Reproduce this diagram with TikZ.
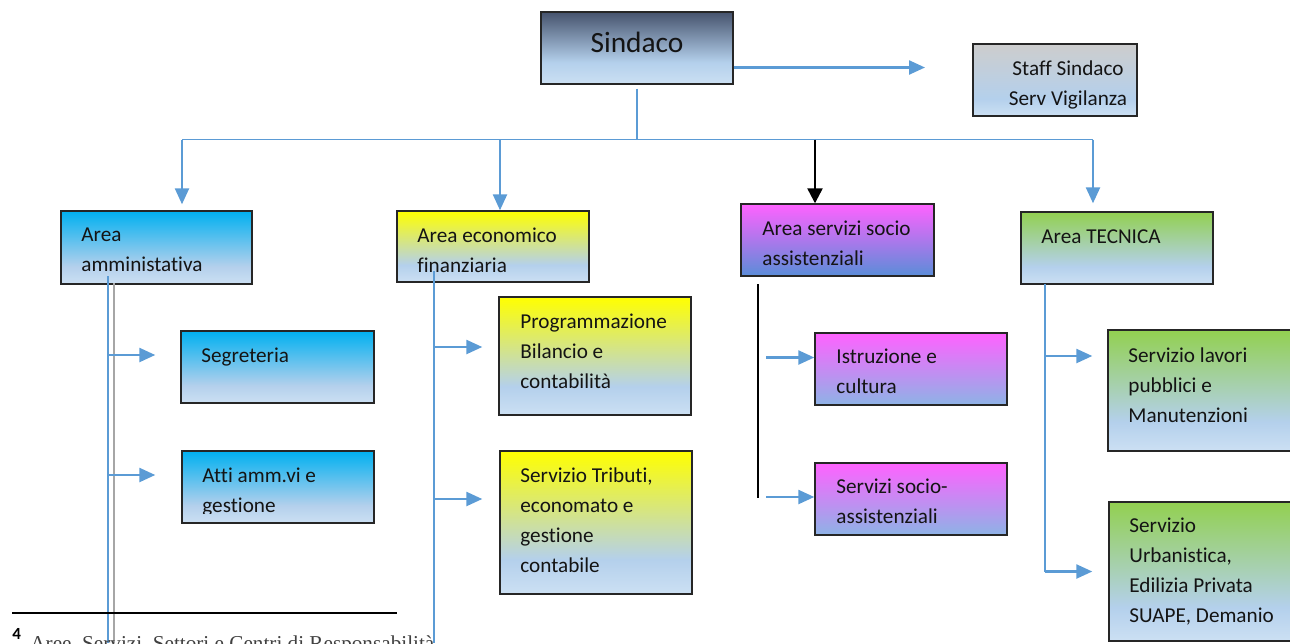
\documentclass[tikz,border=0pt]{standalone}
\usepackage{fontspec}
\setmainfont{Carlito}[Ligatures={NoCommon}]
\newfontfamily\serifnote{Liberation Serif}
\usetikzlibrary{arrows.meta,fit}

\definecolor{lnblue}{HTML}{5B9BD5}
\definecolor{lbA}{HTML}{B4D0EC}
\definecolor{lbB}{HTML}{CCE0F3}
\definecolor{cyanT}{HTML}{00B0F0}
\definecolor{yelT}{HTML}{FFFF00}
\definecolor{magT}{HTML}{FF62FF}
\definecolor{grnT}{HTML}{92D050}
\definecolor{sinT}{HTML}{46536D}
\definecolor{grayT}{HTML}{CDCDCD}
\definecolor{blueM}{HTML}{5A8DD8}
\definecolor{blueN}{HTML}{8DB3E6}
\definecolor{gline}{HTML}{A6A6A6}

\pgfdeclareverticalshading{shCyan}{100bp}{color(0bp)=(lbB); color(25bp)=(lbB); color(37bp)=(lbA); color(75bp)=(cyanT); color(100bp)=(cyanT)}
\pgfdeclareverticalshading{shYel}{100bp}{color(0bp)=(lbB); color(25bp)=(lbB); color(37bp)=(lbA); color(75bp)=(yelT); color(100bp)=(yelT)}
\pgfdeclareverticalshading{shGrn}{100bp}{color(0bp)=(lbB); color(25bp)=(lbB); color(37bp)=(lbA); color(75bp)=(grnT); color(100bp)=(grnT)}
\pgfdeclareverticalshading{shSind}{100bp}{color(0bp)=(lbB); color(25bp)=(lbB); color(40bp)=(lbA); color(75bp)=(sinT); color(100bp)=(sinT)}
\pgfdeclareverticalshading{shGray}{100bp}{color(0bp)=(lbB); color(25bp)=(lbB); color(37bp)=(lbA); color(75bp)=(grayT); color(100bp)=(grayT)}
\pgfdeclareverticalshading{shMagA}{100bp}{color(0bp)=(blueM); color(25bp)=(blueM); color(75bp)=(magT); color(100bp)=(magT)}
\pgfdeclareverticalshading{shMagB}{100bp}{color(0bp)=(blueN); color(25bp)=(blueN); color(75bp)=(magT); color(100bp)=(magT)}

\tikzset{
  box/.style={draw=black!85, line width=0.7pt, inner sep=0pt, shade, shading=#1},
  txt/.style={font=\fontsize{10.6}{15}\selectfont, align=left, inner sep=0pt, text=black!92},
  arr/.style={draw=lnblue, line width=1.2pt, -{Triangle[length=8pt,width=7pt]}},
  blk/.style={draw=black, line width=1.2pt, -{Triangle[length=7.5pt,width=7.5pt]}},
  ln/.style={draw=lnblue, line width=0.8pt},
  gln/.style={draw=gline, line width=0.9pt},
}

\begin{document}
\begin{tikzpicture}[x=0.5pt,y=-0.5pt]
\useasboundingbox (0,0) rectangle (1290,643);

% boxes
\node[box=shSind, fit={(541,12) (733,84)}] (sind) {};
\node[box=shGray, fit={(973,44) (1137,116)}] (staff) {};
\node[box=shCyan, fit={(61,211) (252,284)}] (aamm) {};
\node[box=shYel,  fit={(397,211) (589,282)}] (aeco) {};
\node[box=shMagA, fit={(741,204) (934,276)}] (asoc) {};
\node[box=shGrn,  fit={(1021,212) (1213,284)}] (atec) {};
\node[box=shCyan, fit={(181,331) (374,403)}] (seg) {};
\node[box=shCyan, fit={(182,451) (374,523)}] (atti) {};
\node[box=shYel,  fit={(499,297) (691,415)}] (prog) {};
\node[box=shYel,  fit={(500,451) (692,594)}] (trib) {};
\node[box=shMagB, fit={(815,333) (1007,405)}] (istr) {};
\node[box=shMagB, fit={(815,463) (1007,535)}] (ssoc) {};
\node[box=shGrn,  fit={(1108,330) (1300,451)}] (lav) {};
\node[box=shGrn,  fit={(1109,502) (1300,641)}] (urb) {};

% texts
\node[font=\fontsize{14.7}{18}\selectfont, inner sep=0pt, text=black!92, anchor=base] (sindT) at (637,52) {Sindaco};
\begin{scope}
  \clip (973,44) rectangle (1137,115);
  \node[txt, align=center, anchor=center] (staffT) at (1068,84) {\strut Staff Sindaco\\Serv Vigilanza\strut};
\end{scope}
\node[txt, anchor=west] (aammT) at (81,250) {\strut Area\\amministativa\strut};
\node[txt, anchor=west] (aecoT) at (417,251) {\strut Area economico\\finanziaria\strut};
\node[txt, anchor=west] (asocT) at (762,244) {\strut Area servizi socio\\assistenziali\strut};
\node[txt, anchor=west] (atecT) at (1041,237) {\strut Area TECNICA\strut};
\node[txt, anchor=west] (segT) at (201,356) {\strut Segreteria\strut};
\begin{scope}
  \clip (182,451) rectangle (374,513);
  \node[txt, anchor=west] (attiT) at (202,491) {\strut Atti amm.vi e\\gestione\strut};
\end{scope}
\node[txt, anchor=west] (progT) at (520,352) {\strut Programmazione\\Bilancio e\\contabilità\strut};
\node[txt, anchor=west] (tribT) at (520,521) {\strut Servizio Tributi,\\economato e\\gestione\\contabile\strut};
\node[txt, anchor=west] (istrT) at (836,372) {\strut Istruzione e\\cultura\strut};
\node[txt, anchor=west] (ssocT) at (836,502) {\strut Servizi socio-\\assistenziali\strut};
\node[txt, anchor=west] (lavT) at (1128,386) {\strut Servizio lavori\\pubblici e\\Manutenzioni\strut};
\node[txt, anchor=west] (urbT) at (1129,571) {\strut Servizio\\Urbanistica,\\Edilizia Privata\\SUAPE, Demanio\strut};

% top connectors
\coordinate (sR) at (925,67.5);
\draw[arr] (sind.east |- sR) -- (sR);
\coordinate (busC) at (637,139.5);
\draw[ln] ([yshift=-2pt]sind.south) -- (busC);
\coordinate (busL) at (182,139.5);
\coordinate (bus2) at (500,139.5);
\coordinate (bus3) at (815,139.5);
\coordinate (busR) at (1093,139.5);
\draw[ln] (busL) -- (busR);
\draw[arr, shorten >=3pt] (busL) -- (busL |- aamm.north);
\draw[arr] (bus2) -- (bus2 |- aeco.north);
\draw[blk] (bus3) -- (bus3 |- asoc.north);
\draw[arr, shorten >=4pt] (busR) -- (busR |- atec.north);

% left column
\coordinate (L1) at (108,276);
\coordinate (L1e) at (108,643);
\coordinate (G1) at (114,283);
\coordinate (G1e) at (114,643);
\draw[ln] (L1) -- (L1e);
\draw[gln] (G1) -- (G1e);
\coordinate (La) at (108,355);
\coordinate (Lb) at (108,475);
\draw[arr, shorten >=12.5pt] (La) -- (La -| seg.west);
\draw[arr, shorten >=13pt] (Lb) -- (Lb -| atti.west);

% economic column
\coordinate (E1) at (434,271);
\coordinate (E1e) at (434,643);
\draw[ln] (E1) -- (E1e);
\coordinate (Ea) at (434,347);
\coordinate (Eb) at (434,499);
\draw[arr, shorten >=8pt] (Ea) -- (Ea -| prog.west);
\draw[arr, shorten >=8.5pt] (Eb) -- (Eb -| trib.west);

% social column
\coordinate (S1) at (758,284);
\coordinate (S1e) at (758,498);
\draw[draw=black, line width=1pt] (S1) -- (S1e);
\coordinate (Sa) at (766,357.5);
\coordinate (Sb) at (766,497);
\draw[arr] (Sa) -- (Sa -| istr.west);
\draw[arr] (Sb) -- (Sb -| ssoc.west);

% technical column
\coordinate (T1) at (1045,284);
\coordinate (T1e) at (1045,571.5);
\draw[ln] (T1) -- (T1e);
\coordinate (Ta) at (1045,356);
\draw[arr, shorten >=7.5pt] (Ta) -- (Ta -| lav.west);
\draw[arr, shorten >=8pt] (T1e) -- (T1e -| urb.west);

% footnote
\coordinate (fnA) at (12,612.5);
\coordinate (fnB) at (397,612.5);
\draw[black, line width=1pt] (fnA) -- (fnB);
\node[anchor=base west, inner sep=0pt, font=\fontsize{8.5}{9}\selectfont\bfseries] (fnNum) at (12,639.5) {4};
\node[anchor=base west, inner sep=0pt, font=\serifnote\fontsize{10.6}{13}\selectfont, text=black!75] (fnText) at (30,650) {Aree, Servizi, Settori e Centri di Responsabilità};
\end{tikzpicture}
\end{document}
